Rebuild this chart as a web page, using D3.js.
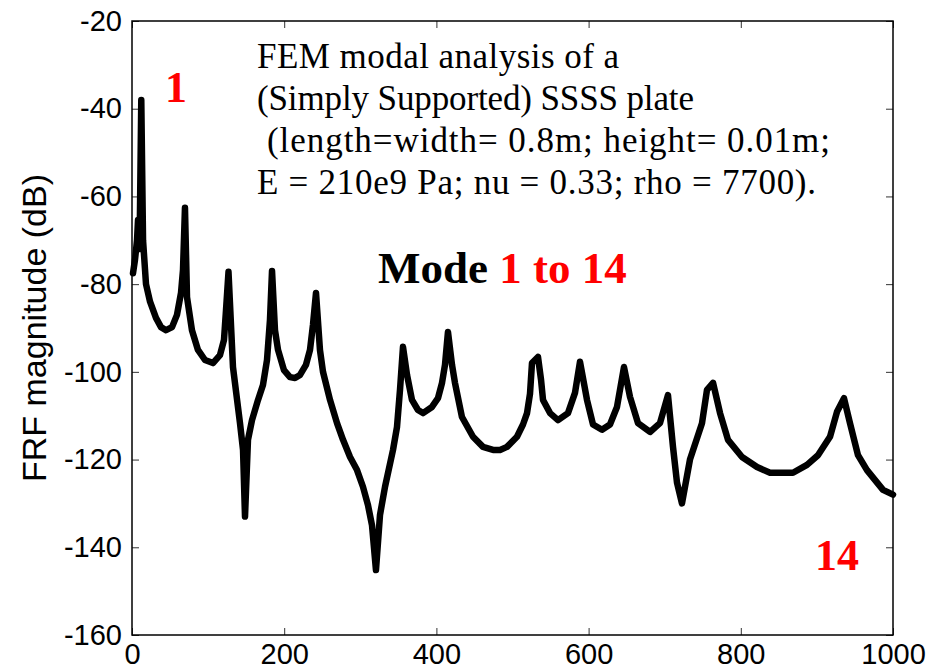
<!DOCTYPE html>
<html>
<head>
<meta charset="utf-8">
<script src="https://cdn.jsdelivr.net/npm/d3@7"></script>
<style>
  body { margin: 0; background: #fff; }
</style>
</head>
<body>
<div id="chart"></div>
<script>
// frequency (Hz) and FRF magnitude (dB)
var freq = [1.3, 3.9, 6.6, 7.9, 9.9, 12.2, 14.5, 18.4, 23.7, 31.5, 38.1, 44.7, 52.6, 59.1, 64.4, 67.0,
    69.6, 72.3, 78.8, 86.7, 95.9, 106.4, 115.6, 120.9, 123.5, 126.8, 132.7, 141.9, 145.9, 148.5,
    152.4, 157.7, 165.6, 172.1, 177.4, 181.3, 184.0, 187.9, 191.9, 199.7, 207.6, 214.2, 220.8,
    228.6, 233.9, 237.8, 241.8, 247.0, 251.0, 260.2, 269.4, 277.3, 286.5, 295.7, 303.5, 310.1,
    315.4, 320.6, 325.9, 332.5, 343.0, 348.2, 352.2, 356.1, 361.4, 367.9, 375.8, 382.4, 394.2,
    402.1, 407.4, 411.3, 415.2, 420.5, 424.4, 433.6, 448.1, 461.2, 474.4, 483.6, 492.8, 505.9,
    513.8, 519.1, 523.0, 525.6, 533.5, 537.5, 540.1, 549.3, 559.8, 572.9, 582.1, 588.7, 597.9,
    605.8, 617.6, 628.1, 637.3, 646.5, 654.4, 664.9, 680.7, 693.8, 704.3, 710.9, 716.2, 722.7,
    733.2, 749.0, 755.6, 763.5, 772.7, 783.2, 801.6, 821.3, 838.4, 868.6, 887.0, 901.4, 917.2,
    926.4, 935.6, 943.5, 954.0, 965.8, 986.9, 1000];
var magDb = [-77.5, -74.5, -70, -65.4, -72, -38, -70, -80, -84, -87.7, -89.8, -90.5, -89.8, -87,
    -82, -76.8, -62.6, -83, -90.5, -95, -97.3, -98, -96.2, -92.7, -86, -77.2, -98.9, -111.7,
    -117.8, -133, -115.5, -111, -106.4, -103, -97.3, -88.2, -77, -90.5, -95, -99.6, -101.2,
    -101.4, -100.7, -98.4, -95, -89.3, -82, -95, -100, -106.4, -111.7, -115.5, -119.4, -122.4,
    -126.2, -130.4, -135, -145.2, -132.6, -126.2, -117.8, -112.6, -104, -94.3, -100.7, -106.4,
    -108.7, -109.4, -108, -106, -102.5, -98.4, -90.9, -98.4, -102.5, -110.3, -114.8, -117.1,
    -117.8, -117.8, -117.1, -114.8, -112, -109.4, -105, -98, -96.6, -101.8, -106.4, -109.4, -111,
    -109.4, -104.8, -97.7, -106.4, -112, -113.2, -112, -108, -98.9, -105.7, -111.7, -113.7,
    -111.7, -105.3, -117.1, -125.3, -130, -120, -111.7, -104.1, -102.5, -109.4, -115.5, -119.4,
    -121.7, -123, -123, -121.2, -119, -114.8, -109.1, -106, -111.7, -119, -122.4, -126.9, -128];

var xTicks = [0, 200, 400, 600, 800, 1000];
var yTicks = [-160, -140, -120, -100, -80, -60, -40, -20];
var yLabel = "FRF magnitude (dB)";
var noteLines = ["FEM modal analysis of a", "(Simply Supported) SSSS plate",
    " (length=width= 0.8m; height= 0.01m;", "E = 210e9 Pa; nu = 0.33; rho = 7700)."];

var width = 928, height = 669;
var margin = {top: 21, right: 35, bottom: 34, left: 132};
var innerW = width - margin.left - margin.right;
var innerH = height - margin.top - margin.bottom;

var svg = d3.select("#chart")
    .append("svg")
    .attr("width", width)
    .attr("height", height);

var g = svg.append("g")
    .attr("transform", "translate(" + margin.left + "," + margin.top + ")");

var x = d3.scaleLinear().domain([0, 1000]).range([0, innerW]);
var y = d3.scaleLinear().domain([-160, -20]).range([innerH, 0]);

// plain integers with an ascii hyphen, like the original
var fmt = function(d) { return String(d); };

var tickLen = 7;
function styleAxis(sel, showLabels) {
    sel.select(".domain").remove();
    sel.selectAll(".tick line").attr("stroke", "#333").attr("stroke-width", 1);
    sel.selectAll("text")
        .attr("font-family", "Liberation Sans, Arial, sans-serif")
        .attr("font-size", 29)
        .attr("fill", "#000");
    if (!showLabels) sel.selectAll("text").remove();
}

g.append("g")
    .attr("transform", "translate(0," + innerH + ")")
    .call(d3.axisBottom(x).tickValues(xTicks).tickFormat(fmt).tickSize(-tickLen).tickPadding(8))
    .call(styleAxis, true);
g.append("g")
    .call(d3.axisTop(x).tickValues(xTicks).tickSize(-tickLen))
    .call(styleAxis, false);
g.append("g")
    .call(d3.axisLeft(y).tickValues(yTicks).tickFormat(fmt).tickSize(-tickLen).tickPadding(10))
    .call(styleAxis, true);
g.append("g")
    .attr("transform", "translate(" + innerW + ",0)")
    .call(d3.axisRight(y).tickValues(yTicks).tickSize(-tickLen))
    .call(styleAxis, false);

// frame
g.append("rect")
    .attr("width", innerW)
    .attr("height", innerH)
    .attr("fill", "none")
    .attr("stroke", "#000")
    .attr("stroke-width", 1.5);

var pts = freq.map(function(f, i) { return [f, magDb[i]]; });
var line = d3.line()
    .x(function(d) { return x(d[0]); })
    .y(function(d) { return y(d[1]); });

g.append("path")
    .datum(pts)
    .attr("d", line)
    .attr("fill", "none")
    .attr("stroke", "#000")
    .attr("stroke-width", 6.5)
    .attr("stroke-linejoin", "round")
    .attr("stroke-linecap", "round");

// y label
svg.append("text")
    .attr("transform", "translate(46," + (margin.top + innerH / 2) + ") rotate(-90)")
    .attr("text-anchor", "middle")
    .attr("font-family", "Liberation Sans, Arial, sans-serif")
    .attr("font-size", 34)
    .text(yLabel);

// annotation
var serif = "Liberation Serif, Times New Roman, serif";
var noteWidths = [362, 437, 563, 559];
svg.append("g").selectAll("text")
    .data(noteLines)
    .enter()
    .append("text")
    .attr("x", function(d, i) { return i === 2 ? 267 : 257; })
    .attr("y", function(d, i) { return 68 + i * 42; })
    .attr("font-family", serif)
    .attr("font-size", 35)
    .attr("textLength", function(d, i) { return noteWidths[i]; })
    .attr("lengthAdjust", "spacing")
    .text(function(d) { return d.trim(); });

var mode = svg.append("text")
    .attr("x", 378)
    .attr("y", 283)
    .attr("font-family", serif)
    .attr("font-weight", "bold")
    .attr("font-size", 45);
mode.append("tspan").attr("fill", "#000").text("Mode ");
mode.append("tspan").attr("fill", "#ff0000").text("1 to 14");

svg.append("text")
    .attr("x", 176)
    .attr("y", 102)
    .attr("text-anchor", "middle")
    .attr("font-family", serif)
    .attr("font-weight", "bold")
    .attr("font-size", 44)
    .attr("fill", "#ff0000")
    .text("1");

svg.append("text")
    .attr("x", 837)
    .attr("y", 570)
    .attr("text-anchor", "middle")
    .attr("font-family", serif)
    .attr("font-weight", "bold")
    .attr("font-size", 44)
    .attr("fill", "#ff0000")
    .text("14");
</script>
</body>
</html>
